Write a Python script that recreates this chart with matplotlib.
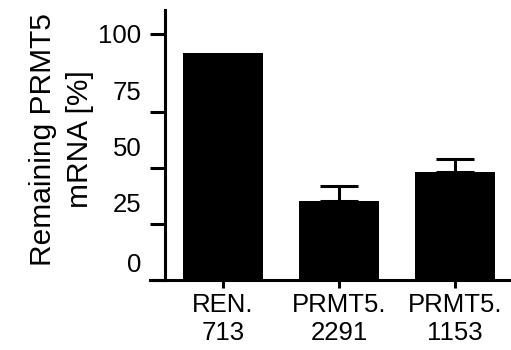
import matplotlib
matplotlib.use("Agg")
from matplotlib import pyplot as plt
import matplotlib.transforms as mtransforms

plt.rcParams['font.family'] = ['Liberation Sans', 'DejaVu Sans']

# data (in axis-tick units)
samples = ["REN.\n713", "PRMT5.\n2291", "PRMT5.\n1153"]
remaining = [101.3, 35.3, 48.2]
errors = [0, 6.7, 5.8]

# y ticks as drawn in the original (labels sit off their ticks)
ytick_pos = [0, 25, 50, 75, 110]
ytick_lab = ["0", "25", "50", "75", "100"]
ytick_shift_px = [18, 21, 21, 21, 0]

fig = plt.figure(figsize=(5.11, 3.5), dpi=100)
ax = fig.add_axes([150/511, 0.2, 361/511, 0.7714])

x = list(range(len(samples)))
ax.bar(x, remaining, width=0.69, color='black', zorder=2)
err_x = [i for i, e in zip(x, errors) if e > 0]
err_y = [v for v, e in zip(remaining, errors) if e > 0]
err_e = [e for e in errors if e > 0]
ax.errorbar(err_x, err_y, yerr=[[0]*len(err_e), err_e], fmt='none',
            ecolor='black', elinewidth=2.2, capsize=14, capthick=2.2, zorder=1)

ax.set_xlim(-0.629, 2.483)
ax.set_ylim(0, 120.5)

for s in ['top', 'right']:
    ax.spines[s].set_visible(False)
ax.spines['left'].set_position(('axes', 15/361))
ax.spines['left'].set_linewidth(2.2)
ax.spines['bottom'].set_linewidth(2.2)

ax.set_xticks(x)
ax.set_xticklabels(samples, fontsize=18.5, linespacing=1.25)
ax.tick_params(axis='x', length=6, width=2.2, direction='out', pad=3)

ax.set_yticks(ytick_pos)
ax.set_yticklabels(ytick_lab, fontsize=18.5)
ax.tick_params(axis='y', length=11, width=2.2, direction='out', pad=6)
for lab, sh in zip(ax.get_yticklabels(), ytick_shift_px):
    lab.set_transform(lab.get_transform() +
                      mtransforms.ScaledTranslation(0, sh/100, fig.dpi_scale_trans))

ax.set_ylabel("Remaining PRMT5\nmRNA [%]", fontsize=21.5, linespacing=1.4)
ax.yaxis.set_label_coords(-0.155, 0.52)

fig.savefig("out.png", dpi=100)
